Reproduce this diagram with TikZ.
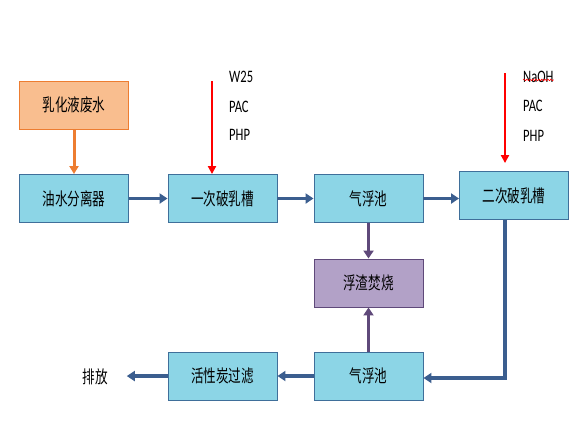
\documentclass[tikz,border=0pt]{standalone}
\usepackage{fontspec}
\setmainfont{Carlito}[FakeStretch=0.72]
\newfontfamily\cjk{Noto Sans CJK SC}[FakeStretch=0.72]
\usepackage{tikz}
\usetikzlibrary{arrows.meta,decorations.pathmorphing}
\definecolor{boxblue}{HTML}{8CD5E6}
\definecolor{edgeblue}{HTML}{3F6F9A}
\definecolor{flowblue}{HTML}{3B5E8F}
\definecolor{wastefill}{HTML}{F9BE8F}
\definecolor{wasteedge}{HTML}{ED7D31}
\definecolor{burnfill}{HTML}{B2A1C7}
\definecolor{burnedge}{HTML}{5F497A}
\definecolor{dose}{HTML}{FF0000}

\begin{document}
\begin{tikzpicture}[x=1pt,y=-1pt,
  unit/.style={draw=edgeblue, fill=boxblue, line width=0.9pt, inner sep=0pt,
    minimum width=109pt, minimum height=48pt, font=\cjk\fontsize{17.5}{20}\selectfont},
  flow/.style={draw=flowblue, line width=3.5pt, -{Triangle[length=8pt,width=10pt]}},
  chem/.style={anchor=west, inner sep=0pt, font=\fontsize{17.5}{20}\selectfont}]
  \useasboundingbox (0,0) rectangle (577,421);

  % Source
  \node[unit, draw=wasteedge, fill=wastefill] (waste) at (74,105) {乳化液废水};

  % First line
  \node[unit] (sep) at (74,198.5) {油水分离器};
  \node[unit] (demulA) at (222.5,198.5) {一次破乳槽};
  \node[unit] (floatA) at (368.5,198.5) {气浮池};
  \node[unit] (demulB) at (514,195.5) {二次破乳槽};

  % Sludge
  \node[unit, draw=burnedge, fill=burnfill] (burn) at (368.5,283) {浮渣焚烧};

  % Second line
  \node[unit] (floatB) at (368.5,376) {气浮池};
  \node[unit] (carbon) at (222.5,376) {活性炭过滤};
  \node[inner sep=0pt, font=\cjk\fontsize{17.5}{20}\selectfont] (out) at (95,377) {排放};

  % Dosing
  \coordinate (doseA) at (212,81);
  \coordinate (doseB) at (505,73);
  \node[chem] (wA) at (229,77) {W25};
  \node[chem] (pA) at (229,107) {PAC};
  \node[chem] (hA) at (229,135) {PHP};
  \node[chem] (wB) at (523,77) {NaOH};
  \node[chem] (pB) at (523,106) {PAC};
  \node[chem] (hB) at (523,136) {PHP};
  \draw[dose, line width=0.6pt, decorate, decoration={snake, amplitude=0.8pt, segment length=3pt}]
    ([yshift=3pt]wB.south west) -- ([yshift=3pt]wB.south east);

  % Arrows
  \draw[wasteedge, line width=3pt, -{Triangle[length=8pt,width=9pt]}] (waste) -- (sep);
  \draw[dose, line width=2.5pt, -{Triangle[length=8pt,width=8pt]}] (doseA) -- (doseA |- demulA.north);
  \draw[dose, line width=2.5pt, -{Triangle[length=8pt,width=8pt]}, shorten >=8pt] (doseB) -- (doseB |- demulB.north);
  \draw[flow] (sep) -- (demulA);
  \draw[flow] (demulA) -- (floatA);
  \draw[flow] (floatA.east) -- (floatA.east -| demulB.west);
  \draw[flow, draw=burnedge] (floatA) -- (burn);
  \draw[flow, draw=burnedge] (floatB) -- (burn);
  \draw[flow] (doseB |- demulB.south) |- ([yshift=-2pt]floatB.east);
  \draw[flow] (floatB) -- (carbon);
  \draw[flow] (carbon.west) -- ([xshift=19pt]out.east |- carbon.west);
\end{tikzpicture}
\end{document}
